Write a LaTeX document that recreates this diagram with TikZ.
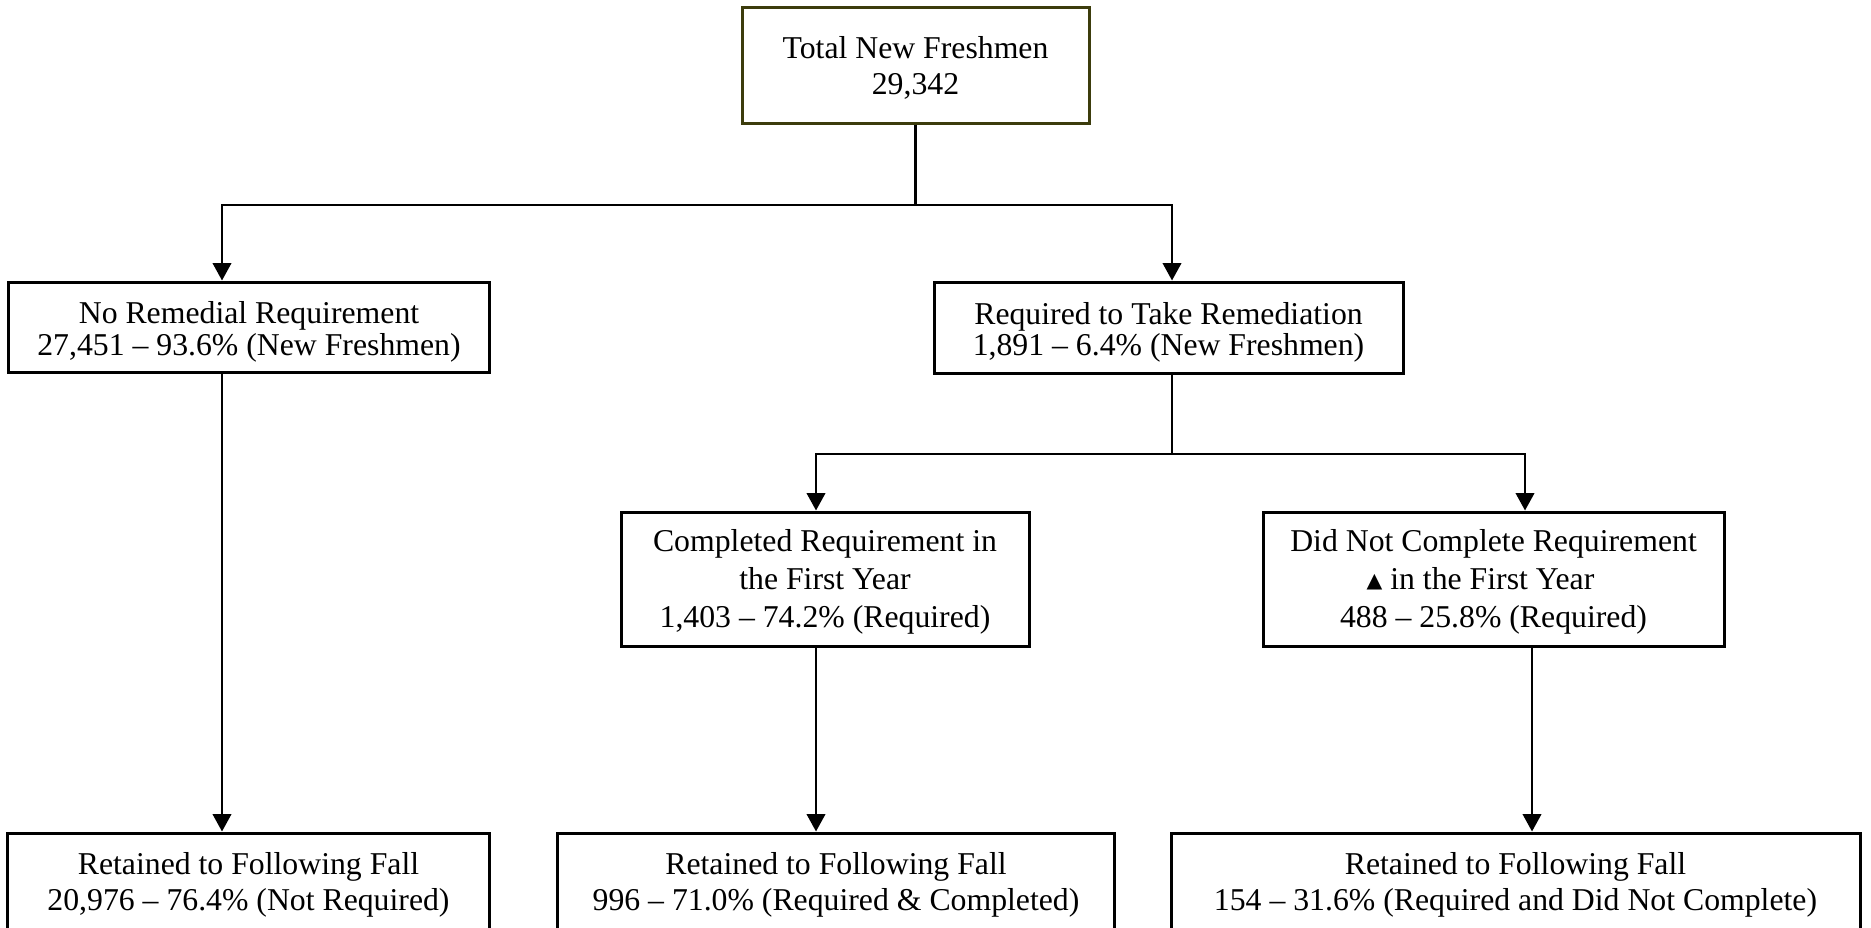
\documentclass[tikz,border=0pt]{standalone}
\usepackage{fontspec}
\setmainfont{Liberation Serif}
\newfontfamily\symfont{DejaVu Sans}
\usetikzlibrary{arrows.meta}
\definecolor{topborder}{RGB}{60,60,12}
\tikzset{
  box/.style={draw=black, line width=1.2pt, rectangle, inner sep=0pt},
  txt/.style={inner sep=0pt, align=center},
  fA/.style={font=\fontsize{12.7}{14.4}\selectfont},
  fB/.style={font=\fontsize{12.7}{12.6}\selectfont},
  fC/.style={font=\fontsize{12.7}{15.2}\selectfont},
  conn/.style={line width=1pt},
  arr/.style={line width=1pt, -{Triangle[width=7.4pt,length=7pt]}},
}
\begin{document}
\begin{tikzpicture}[x=0.4pt,y=-0.4pt]
\useasboundingbox (0,0) rectangle (1871,927);
\clip (0,0) rectangle (1871,927);
% boxes
\node[box, draw=topborder, minimum width=138.8pt, minimum height=46.4pt] (top) at (915.5,65) {};
\node[box, minimum width=192pt, minimum height=36pt] (noreq) at (249,327) {};
\node[box, minimum width=187.6pt, minimum height=36.4pt] (req) at (1168.5,327.5) {};
\node[box, minimum width=163.2pt, minimum height=53.6pt] (comp) at (825,579) {};
\node[box, minimum width=184.4pt, minimum height=53.6pt] (notcomp) at (1493.5,579) {};
\node[box, minimum width=192.4pt, minimum height=40.8pt] (ret1) at (248.5,884) {};
\node[box, minimum width=222.8pt, minimum height=40.8pt] (ret2) at (836,884) {};
\node[box, minimum width=275.6pt, minimum height=40.8pt] (ret3) at (1515.5,884) {};
% texts
\node[txt, fA] (topT) at (915.5,67.5) {Total New Freshmen\\29,342};
\node[txt, fB] (noreqT) at (249,332) {No Remedial Requirement\\27,451 – 93.6\% (New Freshmen)};
\node[txt, fB] (reqT) at (1168.5,332.5) {Required to Take Remediation\\1,891 – 6.4\% (New Freshmen)};
\node[txt, fC] (compT) at (825,582) {Completed Requirement in\\the First Year\\1,403 – 74.2\% (Required)};
\node[txt, fC] (notcompT) at (1493.5,582) {Did Not Complete Requirement\\\raisebox{1pt}{\symfont\fontsize{8.2}{8.2}\selectfont ▲} in the First Year\rule{10.4pt}{0pt}\\488 – 25.8\% (Required)};
\node[txt, fA] (ret1T) at (248.5,885) {Retained to Following Fall\\20,976 – 76.4\% (Not Required)};
\node[txt, fA] (ret2T) at (836,885) {Retained to Following Fall\\996 – 71.0\% (Required \& Completed)};
\node[txt, fA] (ret3T) at (1515.5,885) {Retained to Following Fall\\154 – 31.6\% (Required and Did Not Complete)};
% helper coordinates
\coordinate (j1) at (915.5,205);
\coordinate (c1) at (222,0);
\coordinate (c2) at (1172,0);
\coordinate (j2) at (1172,454);
\coordinate (c3) at (816,0);
\coordinate (c4) at (1525,0);
\coordinate (c5) at (1532,0);
% connectors
\draw[conn] (top.south) -- (j1);
\draw[arr] (j1) -| (c1 |- noreq.north);
\draw[arr] (j1) -| (c2 |- req.north);
\draw[arr] (c1 |- noreq.south) -- (c1 |- ret1.north);
\draw[conn] (c2 |- req.south) -- (j2);
\draw[arr] (j2) -| (c3 |- comp.north);
\draw[arr] (j2) -| (c4 |- notcomp.north);
\draw[arr] (c3 |- comp.south) -- (c3 |- ret2.north);
\draw[arr] (c5 |- notcomp.south) -- (c5 |- ret3.north);
\end{tikzpicture}
\end{document}
